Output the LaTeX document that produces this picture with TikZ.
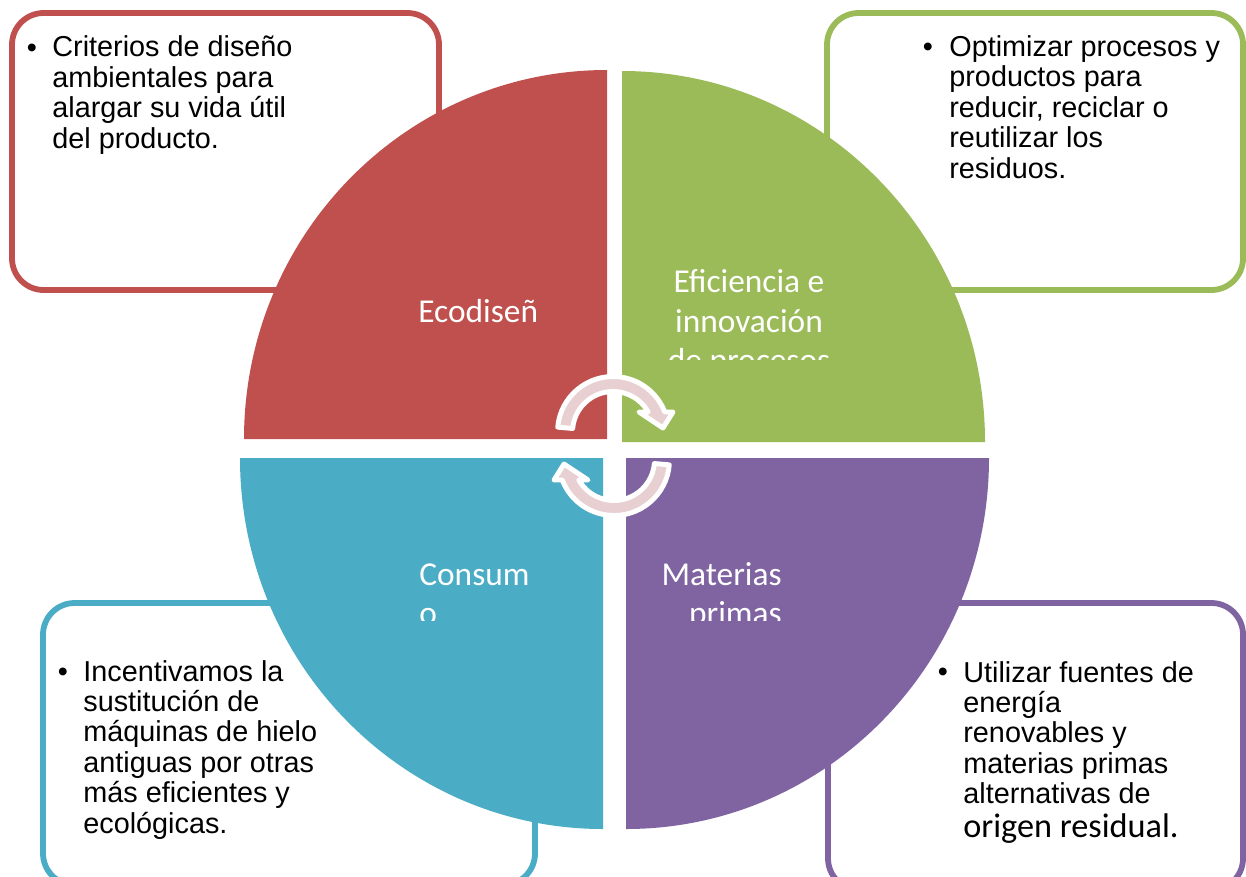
\documentclass[tikz,border=0pt]{standalone}
\usepackage{fontspec}
\setmainfont{Liberation Sans}
\newfontfamily\calibri{Carlito}
\definecolor{ecored}{HTML}{C0504D}
\definecolor{ecogreen}{HTML}{9BBB59}
\definecolor{ecoblue}{HTML}{4BACC6}
\definecolor{ecopurple}{HTML}{8064A2}
\definecolor{arrowpink}{HTML}{E8D0D2}
\tikzset{
    infobox/.style={draw=#1, line width=3.3pt, fill=white, rounded corners=18pt},
    boxtext/.style={anchor=base west, align=left, inner sep=0pt, font=\fontsize{16.4}{17.3}\selectfont},
    bullet/.style={anchor=base, inner sep=0pt, font=\fontsize{16.4}{17.3}\selectfont},
    quartertext/.style={inner sep=0pt, text=white, font=\calibri\fontsize{19}{22.2}\selectfont},
    arrowband/.style={fill=arrowpink, draw=white, line width=2.8pt, line join=round},
    cyclearrow/.pic={
        \filldraw[arrowband] (175:55.5) arc[start angle=175, end angle=21.1, radius=55.5]
            -- (60,20) -- (50,4) -- (26,20)
            -- (29.6:40.5) arc[start angle=29.6, end angle=175, radius=40.5] -- cycle;
    },
}

\begin{document}
\begin{tikzpicture}[x=0.02cm, y=0.02cm]
\useasboundingbox (0,0) rectangle (1246,-876);
\clip (0,0) rectangle (1246,-876);

% text boxes behind the circle
\draw[infobox=ecored] (12,-13) rectangle (439,-290);
\draw[infobox=ecogreen] (827,-13) rectangle (1243,-290);
\draw[infobox=ecoblue] (43,-603) rectangle (535,-885);
\draw[infobox=ecopurple] (828,-603) rectangle (1243,-890);

% quarters
\coordinate (cr) at (607,-439);
\coordinate (cg) at (622,-442);
\coordinate (cb) at (603,-458);
\coordinate (cp) at (626,-458);
\fill[ecored] (cr) -- ++(-363,0) arc[start angle=180, end angle=90, x radius=363, y radius=369] -- cycle;
\fill[ecogreen] (cg) -- ++(363,0) arc[start angle=0, end angle=90, x radius=363, y radius=371] -- cycle;
\fill[ecoblue] (cb) -- ++(-363,0) arc[start angle=180, end angle=270, x radius=363, y radius=371] -- cycle;
\fill[ecopurple] (cp) -- ++(363,0) arc[start angle=0, end angle=-90, x radius=363, y radius=371] -- cycle;

% quarter labels (anchored on their last line)
\node[quartertext, anchor=base west] (ecotxt) at (418,-322) {Ecodiseñ};
\begin{scope}
\clip (600,-200) rectangle (900,-359);
\node[quartertext, anchor=base, align=center] (efitxt) at (749,-371) {Eficiencia e\\innovación\\de procesos};
\end{scope}
\begin{scope}
\clip (380,-540) rectangle (600,-620);
\node[quartertext, anchor=base west, align=left] (contxt) at (419,-624) {Consum\\o};
\end{scope}
\begin{scope}
\clip (640,-540) rectangle (820,-620);
\node[quartertext, anchor=base east, align=right] (mattxt) at (782,-624) {Materias\\primas};
\end{scope}

% cycle arrows
\pic (toparrow) at (613,-432) {cyclearrow};
\pic[rotate=180] (botarrow) at (614,-460) {cyclearrow};

% box texts (anchored on their last line)
\node[bullet] (redbul) at (32,-57) {•};
\node[boxtext] (redtxt) at (52,-148) {Criterios de diseño\\ambientales para\\alargar su vida útil\\del producto.};
\node[bullet] (greenbul) at (928,-56) {•};
\node[boxtext] (greentxt) at (949,-178) {Optimizar procesos y\\productos para\\reducir, reciclar o\\reutilizar los\\residuos.};
\node[bullet] (bluebul) at (63,-681) {•};
\node[boxtext] (bluetxt) at (83,-833) {Incentivamos la\\sustitución de\\máquinas de hielo\\antiguas por otras\\más eficientes y\\ecológicas.};
\node[bullet] (purplebul) at (943,-681) {•};
\node[boxtext] (purpletxt) at (963,-837) {Utilizar fuentes de\\energía\\renovables y\\materias primas\\alternativas de\\[1.7pt]{\calibri\fontsize{19.5}{17.3}\selectfont origen residual.}};
\end{tikzpicture}
\end{document}
